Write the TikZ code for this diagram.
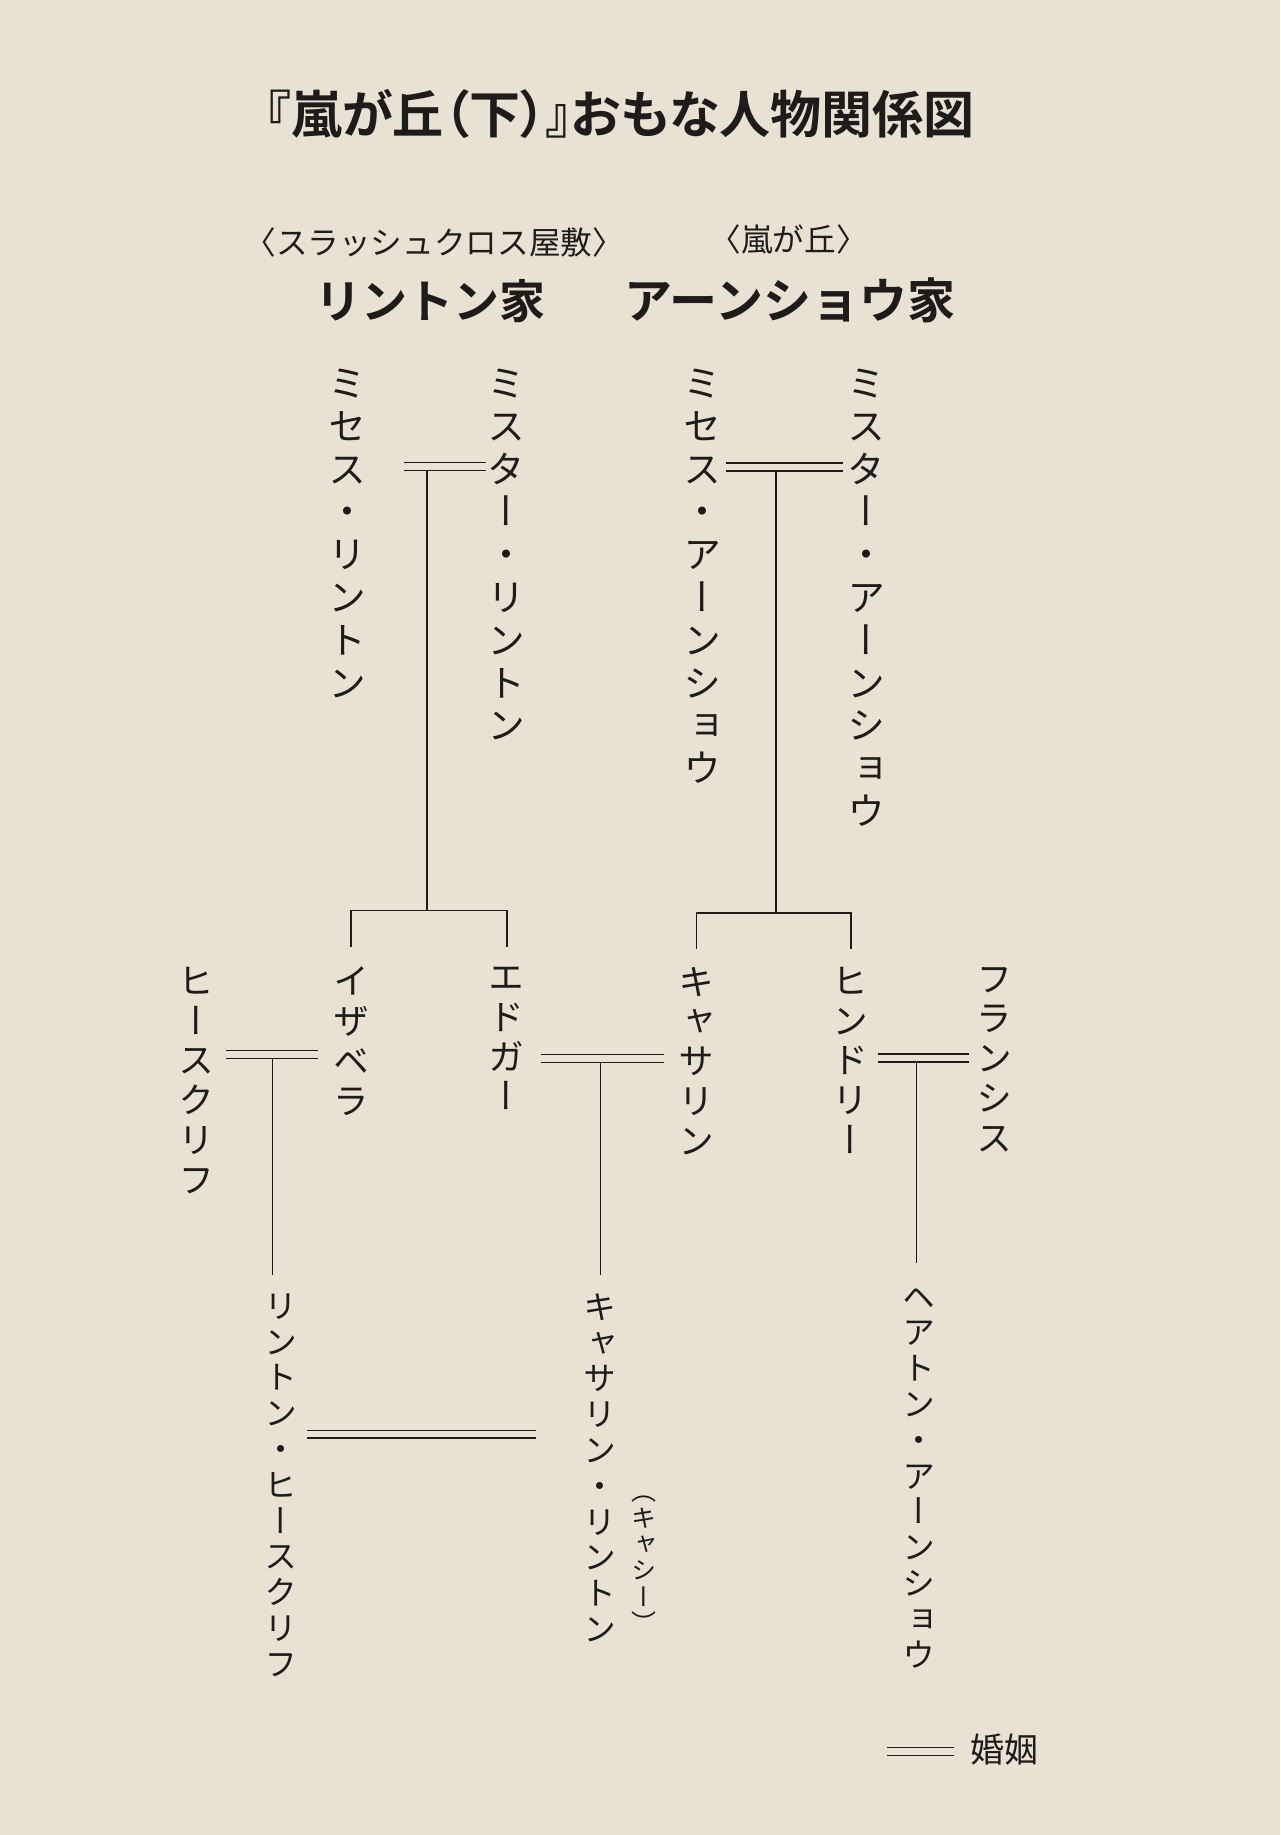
\documentclass[tikz,border=0pt]{standalone}
\usepackage{fontspec}
\setmainfont{Noto Sans CJK JP}
\newfontfamily\jpv[RawFeature=+vert]{Noto Sans CJK JP}
\newfontfamily\jpb{Noto Sans CJK JP Bold}
\newfontfamily\jpbp[RawFeature=+palt]{Noto Sans CJK JP Bold}
\definecolor{paper}{RGB}{232,226,212}
\definecolor{ink}{RGB}{30,28,26}
% one character per line, for vertical names
\def\tate#1{\tatefirst#1\relax}
\def\tatefirst#1{#1\tatenext}
\def\tatenext#1{\ifx#1\relax\else\\#1\expandafter\tatenext\fi}
\tikzset{
  vname/.style={anchor=north, inner sep=0pt, align=center, text=ink,
    font=\jpv\fontsize{19}{21.4}\selectfont},
  vmid/.style={vname, font=\jpv\fontsize{18}{19.9}\selectfont},
  vlow/.style={vname, font=\jpv\fontsize{16.5}{17.9}\selectfont},
  vsmall/.style={vname, font=\jpv\fontsize{12.5}{13.2}\selectfont},
  marriage/.style={draw=ink, double=paper, double distance=3.3pt, line width=0.65pt},
  kin/.style={draw=ink, line width=0.8pt},
}
\begin{document}
\begin{tikzpicture}[x=0.585pt, y=-0.585pt]
\fill[paper] (0,0) rectangle (1094,1568);
\useasboundingbox (0,0) rectangle (1094,1568);
% title and houses
\node[text=ink, font=\jpbp\fontsize{25.5}{25.5}\selectfont] (title) at (530,97) {『嵐が丘（下）』おもな人物関係図};
\node[text=ink, font=\fontsize{15.8}{15.8}\selectfont] (thrush) at (371,207) {〈スラッシュクロス屋敷〉};
\node[text=ink, font=\fontsize{15.8}{15.8}\selectfont] (heights) at (674,205) {〈嵐が丘〉};
\node[text=ink, font=\jpb\fontsize{23}{23}\selectfont] (lintons) at (368,257) {リントン家};
\node[text=ink, font=\jpb\fontsize{24}{24}\selectfont] (earnshaws) at (675,257) {アーンショウ家};
% first generation
\node[vname] (mrsL) at (297,315) {\tate{ミセス・リントン}};
\node[vname] (mrL) at (433,315) {\tate{ミスター・リントン}};
\node[vname] (mrsE) at (600,315) {\tate{ミセス・アーンショウ}};
\node[vname] (mrE) at (740,315) {\tate{ミスター・アーンショウ}};
% second generation
\node[vmid] (heath) at (168,826) {\tate{ヒースクリフ}};
\node[vmid] (isab) at (300,826) {\tate{イザベラ}};
\node[vmid] (edgar) at (433,826) {\tate{エドガー}};
\node[vmid] (cath) at (595,826) {\tate{キャサリン}};
\node[vmid] (hind) at (727,826) {\tate{ヒンドリー}};
\node[vmid] (fran) at (850,826) {\tate{フランシス}};
% third generation
\node[vlow] (linton) at (240,1105) {\tate{リントン・ヒースクリフ}};
\node[vlow] (cathy) at (513,1105) {\tate{キャサリン・リントン}};
\node[vsmall] (cathynick) at (550,1278) {\tate{（キャシー）}};
\node[vlow] (hareton) at (785,1100) {\tate{ヘアトン・アーンショウ}};
% marriage points
\coordinate (mLa) at (345,398.5); \coordinate (mLb) at (415,398.5); \coordinate (mL) at (365,398.5);
\coordinate (mEa) at (620,399); \coordinate (mEb) at (720,399); \coordinate (mE) at (663,399);
\coordinate (mHa) at (193,901); \coordinate (mHb) at (272,901); \coordinate (mH) at (233,901);
\coordinate (mCa) at (462,904.5); \coordinate (mCb) at (567,904.5); \coordinate (mC) at (513,904.5);
\coordinate (mFa) at (750,904); \coordinate (mFb) at (828,904); \coordinate (mF) at (783,904);
\coordinate (mXa) at (262,1225.5); \coordinate (mXb) at (458,1225.5);
\coordinate (bL) at (365,778); \coordinate (bE) at (663,780);
% descent lines
\draw[kin] (mL) -- (bL);
\draw[kin] ([yshift=10pt]isab.north) |- (bL) -| ([yshift=10pt]edgar.north);
\draw[kin] (mE) -- (bE);
\draw[kin] ([yshift=9pt]cath.north) |- (bE) -| ([yshift=9pt]hind.north);
\draw[kin] (mH) -- ([yshift=9pt]linton.north -| mH);
\draw[kin] (mC) -- ([yshift=9pt]cathy.north -| mC);
\draw[kin] (mF) -- ([yshift=12pt]hareton.north -| mF);
% marriages
\draw[marriage] (mLa) -- (mLb);
\draw[marriage] (mEa) -- (mEb);
\draw[marriage] (mHa) -- (mHb);
\draw[marriage] (mCa) -- (mCb);
\draw[marriage] (mFa) -- (mFb);
\draw[marriage] (mXa) -- (mXb);
% legend
\coordinate (keya) at (758,1496.5); \coordinate (keyb) at (815,1496.5);
\draw[marriage] (keya) -- (keyb);
\node[text=ink, anchor=west, inner sep=0pt, font=\fontsize{17}{17}\selectfont] (key) at (829,1495) {婚姻};
\end{tikzpicture}
\end{document}
